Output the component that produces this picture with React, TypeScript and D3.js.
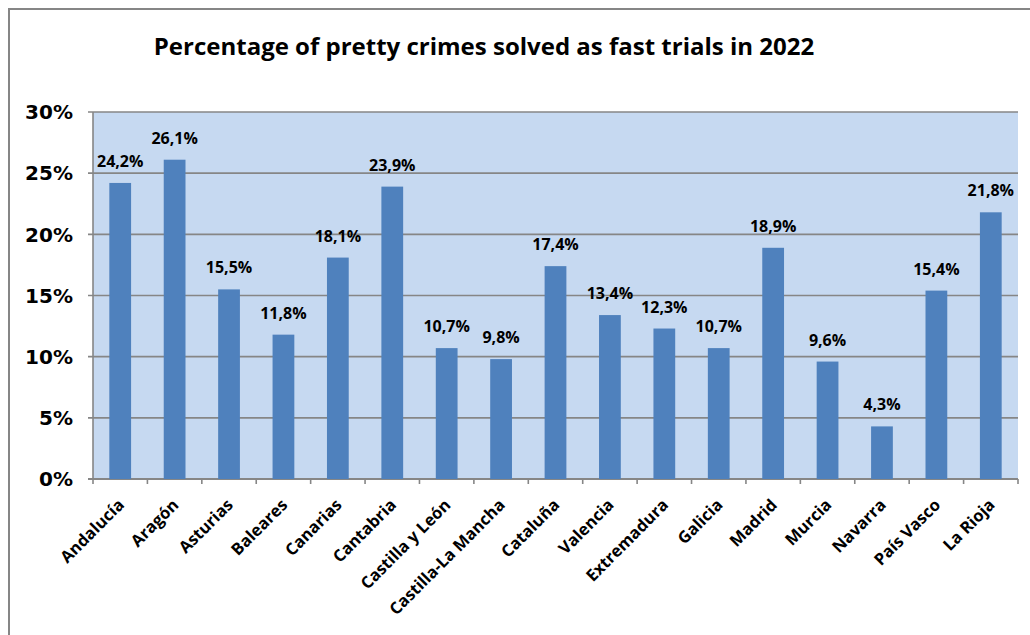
import React from 'react';
import * as d3 from 'd3';

const regions = [
  'Andalucía', 'Aragón', 'Asturias', 'Baleares', 'Canarias', 'Cantabria',
  'Castilla y León', 'Castilla-La Mancha', 'Cataluña', 'Valencia', 'Extremadura',
  'Galicia', 'Madrid', 'Murcia', 'Navarra', 'País Vasco', 'La Rioja',
];
const fastTrialPct = [24.2, 26.1, 15.5, 11.8, 18.1, 23.9, 10.7, 9.8, 17.4, 13.4, 12.3, 10.7, 18.9, 9.6, 4.3, 15.4, 21.8];
const yTicks = [0, 5, 10, 15, 20, 25, 30];
const title = 'Percentage of pretty crimes solved as fast trials in 2022';

const W = 1030;
const H = 635;
const plot = { left: 93, right: 1018, top: 112, bottom: 479 };
const grey = '#868686';

const App: React.FC = () => {
  const x = d3.scaleBand<string>()
    .domain(regions)
    .range([plot.left, plot.right])
    .paddingInner(0)
    .paddingOuter(0);
  const y = d3.scaleLinear().domain([0, 30]).range([plot.bottom, plot.top]);
  const bw = x.bandwidth() / 2.5;
  const fmt = (v: number) => v.toFixed(1).replace('.', ',') + '%';

  return (
    <svg width={W} height={H} style={{ position: 'absolute', left: 0, top: 0, background: '#fff' }}>
      <rect x={9} y={9} width={W + 20} height={H + 20} fill="#fff" stroke={grey} strokeWidth={2} />
      <text x={484} y={55} textAnchor="middle" fontFamily="'Open Sans', sans-serif" fontWeight={700} fontSize={24} fill="#000">
        {title}
      </text>

      <rect x={plot.left} y={plot.top} width={plot.right - plot.left} height={plot.bottom - plot.top} fill="#C6D9F1" />

      {yTicks.map(t => (
        <g key={t}>
          <line x1={plot.left - 5} x2={plot.right} y1={y(t)} y2={y(t)} stroke={grey} strokeWidth={t === 0 ? 2 : 1.6} />
          <text x={73} y={y(t)} dy="0.36em" textAnchor="end" fontFamily="'DejaVu Sans', sans-serif" fontWeight={700} fontSize={20} fill="#000">
            {t}%
          </text>
        </g>
      ))}
      <line x1={plot.left} x2={plot.left} y1={plot.top} y2={plot.bottom} stroke={grey} strokeWidth={1.6} />

      {regions.map((r, i) => {
        const x0 = x(r) as number;
        const cx = x0 + x.bandwidth() / 2;
        const v = fastTrialPct[i];
        return (
          <g key={r}>
            <rect x={cx - bw / 2} y={y(v)} width={bw} height={y(0) - y(v)} fill="#4F81BD" />
            <text x={cx} y={y(v) - 16} textAnchor="middle" fontFamily="'Open Sans', sans-serif" fontWeight={700} fontSize={16} fill="#000">
              {fmt(v)}
            </text>
            <line x1={x0} x2={x0} y1={plot.bottom} y2={plot.bottom + 5} stroke={grey} strokeWidth={1.6} />
            <text
              transform={`translate(${cx + 5},${plot.bottom + 27}) rotate(-45)`}
              textAnchor="end"
              fontFamily="'Open Sans', sans-serif"
              fontWeight={700}
              fontSize={16.5}
              fill="#000"
            >
              {r}
            </text>
          </g>
        );
      })}
      <line x1={plot.right} x2={plot.right} y1={plot.bottom} y2={plot.bottom + 5} stroke={grey} strokeWidth={1.6} />
    </svg>
  );
};

export default App;
